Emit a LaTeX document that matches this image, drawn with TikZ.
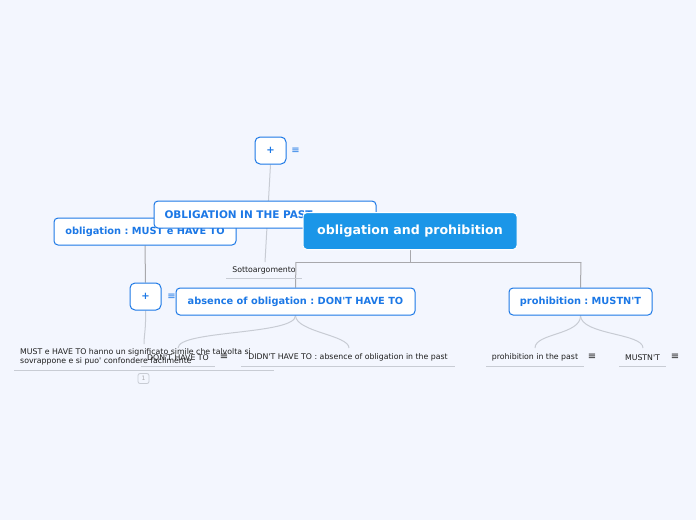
\documentclass[tikz,border=0pt]{standalone}
\usepackage{fontspec}
\setmainfont{DejaVu Sans}[Ligatures=TeXOff]
\frenchspacing
\pgfdeclarelayer{bg}
\pgfdeclarelayer{lines}
\pgfsetlayers{bg,lines,main}
\definecolor{bgc}{RGB}{243,246,254}
\definecolor{nodeblue}{RGB}{28,120,230}
\definecolor{centerblue}{RGB}{27,150,232}
\definecolor{trunk}{RGB}{168,168,172}
\definecolor{twig}{RGB}{200,204,212}
\definecolor{leaftext}{RGB}{30,30,30}
\tikzset{
  x=1pt,y=-1pt,
  topic/.style={draw=nodeblue,line width=1pt,fill=white,rounded corners=4pt,text=nodeblue,font=\bfseries\fontsize{9.8}{11}\selectfont,inner sep=0pt,minimum height=27pt},
  central/.style={draw=white,line width=1pt,fill=centerblue,rounded corners=4pt,text=white,font=\bfseries\fontsize{12.6}{14}\selectfont,inner sep=0pt,minimum height=37pt,minimum width=214pt},
  plusbox/.style={draw=nodeblue,line width=1pt,fill=white,rounded corners=5pt,text=nodeblue,font=\bfseries\fontsize{10}{10}\selectfont,inner sep=0pt,minimum width=31pt,minimum height=27pt},
  leaf/.style={text=leaftext,font=\fontsize{7.8}{9}\selectfont,inner sep=0pt},
  noteicon/.style={font=\fontsize{10}{10}\selectfont,inner sep=0pt},
  trunkline/.style={draw=trunk,line width=1pt},
  twigline/.style={draw=twig,line width=1pt},
}
\begin{document}
\begin{tikzpicture}
\begin{pgfonlayer}{bg}
\fill[bgc] (0,0) rectangle (696,520);
\end{pgfonlayer}
\useasboundingbox (0,0) rectangle (696,520);

% nodes (drawing order matters for overlaps)
\node[topic,minimum width=182pt] (must) at (145,231.5) {obligation : MUST e HAVE TO};
\node[topic,minimum width=222pt,align=left,text width=201pt,font=\bfseries\fontsize{10.5}{12}\selectfont] (past) at (265,214.5) {OBLIGATION IN THE PAST};
\node[central] (root) at (410,231) {obligation and prohibition};

\node[plusbox] (plusA) at (270.5,150.5) {+};
\node[noteicon,text=nodeblue] (noteA) at (295.5,150.5) {≡};
\node[plusbox] (plusB) at (145.5,296.5) {+};
\node[noteicon,text=nodeblue] (noteB) at (171.5,296.5) {≡};

\node[topic,minimum width=239pt] (absence) at (295.5,301.5) {absence of obligation : DON'T HAVE TO};
\node[topic,minimum width=143pt] (prohib) at (580.5,301.5) {prohibition : MUSTN'T};

\node[leaf] (sotto) at (264,270.5) {Sottoargomento};
\coordinate (sottoL) at (226,278);
\coordinate (sottoR) at (302,278);

\node[leaf,anchor=north west,align=left] (mustnote) at (20,348) {MUST e HAVE TO hanno un significato simile che talvolta si\\sovrappone e si puo' confondere facilmente};
\coordinate (mnL) at (14,370);
\coordinate (mnR) at (274,370);
\node[draw=twig,rounded corners=2pt,line width=0.8pt,minimum width=11pt,minimum height=10pt,inner sep=0pt,text=trunk,font=\fontsize{6}{6}\selectfont] (badge) at (143.5,378.5) {1};

\node[leaf] (dont) at (178,357.5) {DON'T HAVE TO};
\node[noteicon,text=leaftext] (noteD) at (224,357) {≡};
\coordinate (dontL) at (141,366);
\coordinate (dontR) at (215,366);
\node[leaf] (didnt) at (348,357.5) {DIDN'T HAVE TO : absence of obligation in the past};
\coordinate (didntL) at (241,366);
\coordinate (didntR) at (455,366);

\node[leaf] (ppast) at (535,357.5) {prohibition in the past};
\node[noteicon,text=leaftext] (noteP) at (592,357) {≡};
\coordinate (ppastL) at (486,366);
\coordinate (ppastR) at (584,366);
\node[leaf] (mustnt) at (642.5,357.5) {MUSTN'T};
\node[noteicon,text=leaftext] (noteM) at (675,357) {≡};
\coordinate (mustntL) at (619,366);
\coordinate (mustntR) at (666,366);

\coordinate (hub) at (410,262);
\coordinate (hubL) at (296,262);
\coordinate (hubR) at (581,262);
\coordinate (mnTop) at (144,344);

\begin{pgfonlayer}{lines}
  \draw[trunkline] (root.south) -- (hub);
  \draw[trunkline] (hubL) -- (hubR);
  \draw[trunkline] (hubL) -- (absence.north);
  \draw[trunkline] (hubR) -- (prohib.north);
  \draw[twigline] (plusA.south) -- (265,262);
  \draw[trunkline] (must.south) -- (plusB.north);
  \draw[twigline] (plusB.south) .. controls (146,330) and (144,335) .. (mnTop);
  \draw[twigline] (absence.south) .. controls (296,335) and (178,330) .. (178,348);
  \draw[twigline] (absence.south) .. controls (296,332) and (349,335) .. (349,348);
  \draw[twigline] (prohib.south) .. controls (581,335) and (535,333) .. (535,348);
  \draw[twigline] (prohib.south) .. controls (581,335) and (643,333) .. (643,348);
  \draw[twigline] (sottoL) -- (sottoR);
  \draw[twigline] (mnL) -- (mnR);
  \draw[twigline] (dontL) -- (dontR);
  \draw[twigline] (didntL) -- (didntR);
  \draw[twigline] (ppastL) -- (ppastR);
  \draw[twigline] (mustntL) -- (mustntR);
\end{pgfonlayer}
\end{tikzpicture}
\end{document}
